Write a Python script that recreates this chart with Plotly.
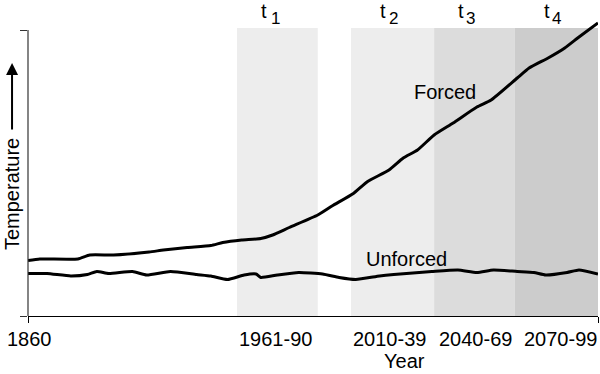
import plotly.graph_objects as go

# ---- data (schematic; x in year-like units, y in arbitrary temperature units) ----
forced_years = [1860, 1865, 1881, 1886, 1896, 1911, 1917, 1927, 1937, 1942, 1950, 1958,
                1963, 1970, 1982, 1988, 1997, 2003, 2012, 2018, 2024, 2031, 2039, 2049,
                2055, 2066, 2071, 2079, 2086, 2092, 2100]
forced_vals = [1.11, 1.14, 1.14, 1.22, 1.22, 1.28, 1.32, 1.37, 1.41, 1.47, 1.52, 1.55,
               1.62, 1.77, 2.02, 2.20, 2.45, 2.69, 2.92, 3.16, 3.32, 3.62, 3.86, 4.18,
               4.32, 4.76, 4.96, 5.16, 5.36, 5.58, 5.86]

unforced_years = [1860, 1868, 1878, 1885, 1889, 1894, 1904, 1910, 1920, 1931, 1937, 1944,
                  1951, 1956, 1958, 1965, 1974, 1984, 1991, 1998, 2008, 2014, 2030, 2041,
                  2049, 2056, 2066, 2073, 2078, 2087, 2092, 2100]
unforced_vals = [0.85, 0.85, 0.80, 0.83, 0.89, 0.85, 0.89, 0.82, 0.89, 0.83, 0.80, 0.73,
                 0.82, 0.84, 0.77, 0.82, 0.87, 0.84, 0.77, 0.73, 0.80, 0.83, 0.89, 0.92,
                 0.87, 0.92, 0.89, 0.87, 0.82, 0.87, 0.92, 0.84]

period_starts = [1948, 1996, 2031, 2065]
period_ends = [1982, 2031, 2065, 2100]
period_colors = ["#ededed", "#ededed", "#dcdcdc", "#cccccc"]
period_index = ["1", "2", "3", "4"]
period_t_x = [1959.5, 2009.5, 2042.5, 2078.5]
period_idx_x = [1964.3, 2013.8, 2046.5, 2082.5]

tick_labels = ["1860", "1961-90", "2010-39", "2040-69", "2070-99"]
tick_label_x = [1860.5, 1964, 2012.4, 2048.6, 2084]

shade_top = 5.76
axis_top = 5.72

FONT = "Liberation Sans, Arial, Helvetica, sans-serif"

fig = go.Figure()

shapes = []
for x0, x1, c in zip(period_starts, period_ends, period_colors):
    shapes.append(dict(type="rect", xref="x", yref="y", x0=x0, x1=x1, y0=0, y1=shade_top,
                       fillcolor=c, line=dict(width=0), layer="below"))
# y-axis line (stops at the top tick)
shapes.append(dict(type="line", xref="x domain", yref="y", x0=0, x1=0, y0=0, y1=axis_top,
                   line=dict(color="#333", width=1.2)))

fig.add_trace(go.Scatter(x=forced_years, y=forced_vals, mode="lines",
                         line=dict(color="black", width=3, shape="spline", smoothing=0.5),
                         showlegend=False, hoverinfo="skip"))
fig.add_trace(go.Scatter(x=unforced_years, y=unforced_vals, mode="lines",
                         line=dict(color="black", width=3, shape="spline", smoothing=0.5),
                         showlegend=False, hoverinfo="skip"))

annotations = []
for idx, xt, xi in zip(period_index, period_t_x, period_idx_x):
    annotations.append(dict(x=xt, y=1.022, xref="x", yref="paper", text="t", showarrow=False,
                            xanchor="center", yanchor="middle",
                            font=dict(family=FONT, size=20, color="black")))
    annotations.append(dict(x=xi, y=0.998, xref="x", yref="paper", text=idx, showarrow=False,
                            xanchor="center", yanchor="middle",
                            font=dict(family=FONT, size=17, color="black")))
for lab, x in zip(tick_labels, tick_label_x):
    annotations.append(dict(x=x, y=-0.078, xref="x", yref="paper", text=lab, showarrow=False,
                            xanchor="center", yanchor="middle",
                            font=dict(family=FONT, size=20, color="black")))
annotations.append(dict(x=2018.5, y=-0.151, xref="x", yref="paper", text="Year", showarrow=False,
                        xanchor="center", yanchor="middle",
                        font=dict(family=FONT, size=20, color="black")))
annotations.append(dict(x=2035.4, y=4.48, xref="x", yref="y", text="Forced", showarrow=False,
                        xanchor="center", yanchor="middle",
                        font=dict(family=FONT, size=20, color="black")))
annotations.append(dict(x=2019.4, y=1.14, xref="x", yref="y", text="Unforced", showarrow=False,
                        xanchor="center", yanchor="middle",
                        font=dict(family=FONT, size=20, color="black")))
# y-axis title with arrow
annotations.append(dict(x=-0.028, y=2.44, xref="paper", yref="y", text="Temperature",
                        showarrow=False, textangle=-90, xanchor="center", yanchor="middle",
                        font=dict(family=FONT, size=20, color="black")))
annotations.append(dict(x=-0.028, y=5.06, xref="paper", yref="y", text="", showarrow=True,
                        ax=0, ay=68, arrowhead=2, arrowsize=1.2, arrowwidth=2,
                        arrowcolor="black"))

fig.update_layout(
    width=600, height=374,
    margin=dict(l=28, r=2, t=18, b=58),
    plot_bgcolor="white", paper_bgcolor="white",
    shapes=shapes, annotations=annotations,
    xaxis=dict(range=[1860, 2100], showgrid=False, zeroline=False, showline=True,
               linecolor="black", linewidth=1.2, ticks="outside", tickvals=[1860, 2100],
               ticklen=6, tickcolor="black", tickwidth=1.2, showticklabels=False),
    yaxis=dict(range=[0, 5.96], showgrid=False, zeroline=False, showline=False,
               ticks="outside", tickvals=[0, axis_top], ticklen=7, tickcolor="#333",
               tickwidth=1.2, showticklabels=False),
)

fig.write_html(
    "out.html",
    config={"responsive": False, "displayModeBar": False},
    post_script="document.body.style.margin='0';document.body.style.overflow='hidden';",
)
